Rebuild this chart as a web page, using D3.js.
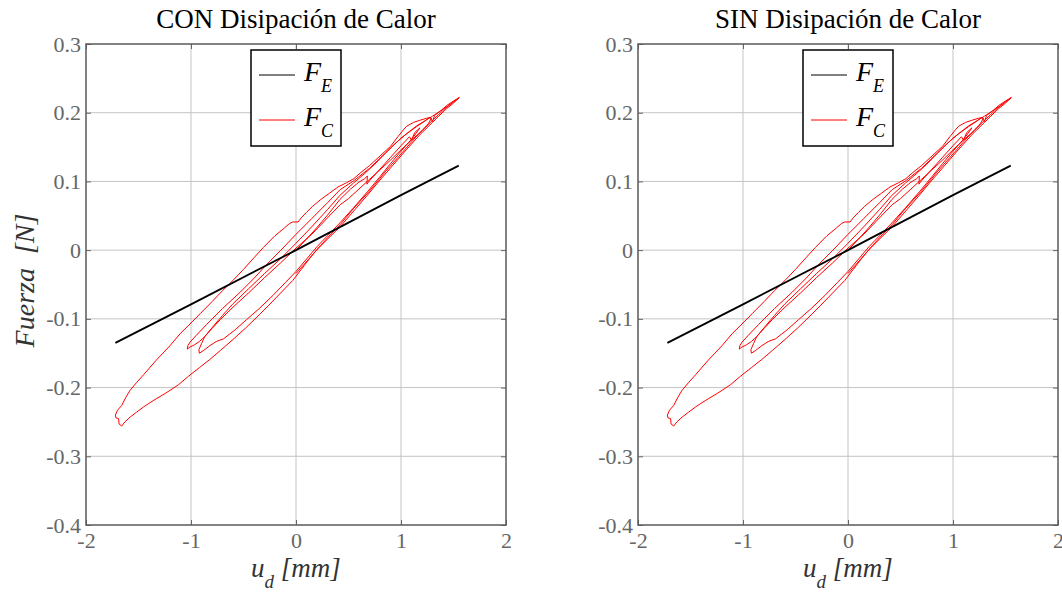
<!DOCTYPE html>
<html><head><meta charset="utf-8">
<script src="https://cdn.jsdelivr.net/npm/d3@7"></script>
<style>
html,body{margin:0;padding:0;background:#fff;}
svg{display:block;}
</style></head>
<body>
<svg id="chart" width="1062" height="594"></svg>
<script>
// ---------- data ----------
const panelTitles = ["CON Disipación de Calor", "SIN Disipación de Calor"];
const xTicks = [-2, -1, 0, 1, 2];
const yTicks = [-0.4, -0.3, -0.2, -0.1, 0, 0.1, 0.2, 0.3];
const xTickLabels = ["-2", "-1", "0", "1", "2"];
const yTickLabels = ["-0.4", "-0.3", "-0.2", "-0.1", "0", "0.1", "0.2", "0.3"];
const xDomain = [-2, 2];
const yDomain = [-0.4, 0.3];

// F_E (elastic force) vs u_d
const feLine = [[-1.72, -0.135], [-1.0, -0.079], [0, 0], [1.0, 0.080], [1.55, 0.123]];

// F_C (total force) vs u_d — consecutive segments of the hysteresis record
const fcSeg1 = [[0,0],[0.1,0.016],[0.2,0.033],[0.3,0.051],[0.42,0.074],[0.52,0.089],[0.6,0.099],[0.655,0.104],[0.68,0.108],[0.675,0.096],[0.70,0.101],[0.8,0.118],[0.9,0.135],[1.0,0.152],[1.08,0.165],[1.10,0.160],[1.13,0.171],[1.18,0.178]];
const fcSeg2 = [[1.18,0.178],[1.12,0.165],[1.0,0.144],[0.9,0.126],[0.8,0.107],[0.68,0.085],[0.55,0.062],[0.42,0.040],[0.3,0.021],[0.2,0.005],[0.1,-0.013],[0.0,-0.031],[-0.1,-0.047],[-0.22,-0.066],[-0.35,-0.085],[-0.47,-0.101],[-0.58,-0.116],[-0.69,-0.129],[-0.76,-0.133],[-0.82,-0.139],[-0.88,-0.146],[-0.92,-0.150]];
const fcSeg3 = [[-0.92,-0.150],[-0.925,-0.145],[-0.90,-0.136],[-0.87,-0.126],[-0.8,-0.113],[-0.7,-0.095],[-0.6,-0.078],[-0.45,-0.056],[-0.3,-0.034],[-0.15,-0.013],[0.0,0.010],[0.15,0.034],[0.3,0.059],[0.42,0.080],[0.55,0.098],[0.65,0.111],[0.75,0.125],[0.85,0.141],[0.95,0.156],[1.05,0.169],[1.15,0.180],[1.22,0.187],[1.27,0.193],[1.29,0.192]];
const fcSeg4 = [[1.29,0.192],[1.26,0.184],[1.2,0.174],[1.1,0.160],[1.0,0.146],[0.9,0.131],[0.8,0.117],[0.7,0.103],[0.6,0.089],[0.5,0.075],[0.42,0.066],[0.3,0.047],[0.15,0.023],[0.0,0.003],[-0.15,-0.019],[-0.3,-0.040],[-0.45,-0.062],[-0.6,-0.083],[-0.72,-0.101],[-0.8,-0.114],[-0.87,-0.126],[-0.92,-0.133],[-0.97,-0.138],[-1.01,-0.141],[-1.035,-0.144]];
const fcSeg5 = [[-1.035,-0.144],[-1.03,-0.139],[-1.01,-0.134],[-0.95,-0.124],[-0.85,-0.108],[-0.7,-0.085],[-0.53,-0.061],[-0.4,-0.041],[-0.28,-0.021],[-0.15,-0.001],[0.0,0.023],[0.15,0.046],[0.3,0.069],[0.42,0.088],[0.55,0.101],[0.7,0.119],[0.85,0.141],[1.0,0.163],[1.15,0.181],[1.3,0.195],[1.45,0.210],[1.555,0.222]];
const fcSeg6 = [[1.555,0.222],[1.50,0.214],[1.435,0.206],[1.36,0.195],[1.30,0.186],[1.18,0.168],[1.05,0.146],[0.92,0.123],[0.80,0.102],[0.68,0.080],[0.55,0.057],[0.42,0.034],[0.30,0.016],[0.20,0.001],[0.12,-0.014],[0.05,-0.028],[-0.03,-0.044],[-0.10,-0.055],[-0.22,-0.074],[-0.35,-0.094],[-0.47,-0.112],[-0.60,-0.130],[-0.72,-0.146],[-0.82,-0.159],[-0.92,-0.171],[-1.02,-0.183],[-1.12,-0.196],[-1.24,-0.208],[-1.36,-0.219],[-1.45,-0.228],[-1.52,-0.236],[-1.58,-0.243],[-1.63,-0.250],[-1.66,-0.256]];
const fcSeg7 = [[-1.66,-0.256],[-1.685,-0.253],[-1.69,-0.245],[-1.715,-0.244],[-1.72,-0.240],[-1.70,-0.233],[-1.66,-0.226],[-1.62,-0.214],[-1.58,-0.204],[-1.52,-0.193],[-1.45,-0.181],[-1.33,-0.160],[-1.20,-0.139],[-1.10,-0.121],[-1.00,-0.106],[-0.91,-0.092],[-0.80,-0.075],[-0.70,-0.059],[-0.60,-0.044],[-0.50,-0.028],[-0.40,-0.011],[-0.31,0.004],[-0.20,0.021],[-0.12,0.031],[-0.06,0.039],[-0.03,0.041],[0.02,0.041],[0.05,0.047],[0.10,0.055],[0.16,0.064],[0.23,0.073],[0.32,0.083],[0.40,0.092],[0.48,0.098],[0.55,0.104],[0.61,0.112],[0.70,0.123],[0.80,0.137],[0.90,0.151],[0.97,0.165],[1.05,0.180],[1.12,0.186],[1.18,0.189],[1.245,0.192],[1.28,0.193],[1.30,0.187],[1.32,0.196],[1.38,0.203],[1.44,0.211],[1.50,0.217],[1.555,0.222]];
const fcSeg8 = [[1.555,0.222],[1.49,0.215],[1.42,0.206],[1.30,0.189],[1.15,0.166],[1.0,0.140],[0.85,0.114],[0.70,0.086],[0.55,0.061],[0.42,0.037],[0.30,0.018],[0.15,-0.008],[0.0,-0.034]];
const fcSegments = [fcSeg1, fcSeg2, fcSeg3, fcSeg4, fcSeg5, fcSeg6, fcSeg7, fcSeg8];

// ---------- drawing ----------
const svg = d3.select("#chart");
const serif = "'Liberation Serif', 'Times New Roman', serif";
const panelLefts = [86, 638];
const plotW = 420, plotTop = 44, plotBottom = 525;

const fcPath = fcSegments.reduce((acc, s, i) => acc.concat(i === 0 ? s : s.slice(1)), []);

panelLefts.forEach((left, pi) => {
  const x = d3.scaleLinear().domain(xDomain).range([left, left + plotW]);
  const y = d3.scaleLinear().domain(yDomain).range([plotBottom, plotTop]);
  const g = svg.append("g");

  // grid
  g.append("g").selectAll("line").data(xTicks.slice(1, -1)).join("line")
    .attr("x1", d => x(d)).attr("x2", d => x(d)).attr("y1", plotTop).attr("y2", plotBottom)
    .attr("stroke", "#c4c4c4").attr("stroke-width", 1);
  g.append("g").selectAll("line").data(yTicks.slice(1, -1)).join("line")
    .attr("y1", d => y(d)).attr("y2", d => y(d)).attr("x1", left).attr("x2", left + plotW)
    .attr("stroke", "#c4c4c4").attr("stroke-width", 1);

  const axStyle = sel => {
    sel.select(".domain").remove();
    sel.attr("font-family", null).attr("font-size", null);
    sel.selectAll(".tick line").attr("stroke", "#666");
    sel.selectAll(".tick text").attr("fill", "#666")
      .style("font-family", serif).style("font-size", "22px");
  };
  g.append("g").attr("transform", `translate(0,${plotBottom})`)
    .call(d3.axisBottom(x).tickValues(xTicks).tickFormat((d, i) => xTickLabels[i]).tickSize(-5).tickPadding(7))
    .call(axStyle);
  g.append("g").attr("transform", `translate(0,${plotTop})`)
    .call(d3.axisTop(x).tickValues(xTicks).tickFormat("").tickSize(-5))
    .call(axStyle);
  g.append("g").attr("transform", `translate(${left},0)`)
    .call(d3.axisLeft(y).tickValues(yTicks).tickFormat((d, i) => yTickLabels[i]).tickSize(-5).tickPadding(5))
    .call(axStyle);
  g.append("g").attr("transform", `translate(${left + plotW},0)`)
    .call(d3.axisRight(y).tickValues(yTicks).tickFormat("").tickSize(-5))
    .call(axStyle);

  // frame
  g.append("rect").attr("x", left).attr("y", plotTop).attr("width", plotW).attr("height", plotBottom - plotTop)
    .attr("fill", "none").attr("stroke", "#5a5a5a").attr("stroke-width", 1.5);

  const line = d3.line().x(d => x(d[0])).y(d => y(d[1]));

  g.append("path").datum(fcPath).attr("d", line)
    .attr("fill", "none").attr("stroke", "#ff0000").attr("stroke-width", 1).attr("stroke-linejoin", "round");
  g.append("path").datum(feLine).attr("d", line)
    .attr("fill", "none").attr("stroke", "#000").attr("stroke-width", 1.8);

  // title
  g.append("text").attr("x", left + plotW / 2).attr("y", 28).attr("text-anchor", "middle")
    .style("font-family", serif).style("font-size", "27px").attr("fill", "#000").text(panelTitles[pi]);

  // x label
  const xl = g.append("text").attr("x", left + plotW / 2).attr("y", 577).attr("text-anchor", "middle")
    .style("font-family", serif).style("font-style", "italic").style("font-size", "27px").attr("fill", "#333");
  xl.append("tspan").text("u");
  xl.append("tspan").style("font-size", "19px").attr("dy", 11).text("d");
  xl.append("tspan").attr("dy", -11).text(" [mm]");

  if (pi === 0) {
    g.append("text").attr("transform", `translate(34,${(plotTop + plotBottom) / 2 - 4}) rotate(-90)`)
      .attr("text-anchor", "middle").style("font-family", serif).style("font-style", "italic")
      .style("font-size", "28px").attr("fill", "#333").text("Fuerza\u00a0\u00a0[N]");
  }

  // legend
  const lx = left + 165, ly = 50;
  const lg = g.append("g");
  lg.append("rect").attr("x", lx).attr("y", ly).attr("width", 90).attr("height", 96)
    .attr("fill", "#fff").attr("stroke", "#000").attr("stroke-width", 1.5);
  const items = [{c: "#000", s: "E"}, {c: "#ff0000", s: "C"}];
  items.forEach((it, i) => {
    const yy = ly + 25 + i * 45;
    lg.append("line").attr("x1", lx + 8).attr("x2", lx + 44).attr("y1", yy).attr("y2", yy)
      .attr("stroke", it.c).attr("stroke-width", 1);
    const t = lg.append("text").attr("x", lx + 53).attr("y", yy + 6)
      .style("font-family", serif).style("font-style", "italic").style("font-size", "28px").attr("fill", "#000");
    t.append("tspan").text("F");
    t.append("tspan").style("font-size", "18px").attr("dy", 11).text(it.s);
  });
});
</script>
</body></html>
